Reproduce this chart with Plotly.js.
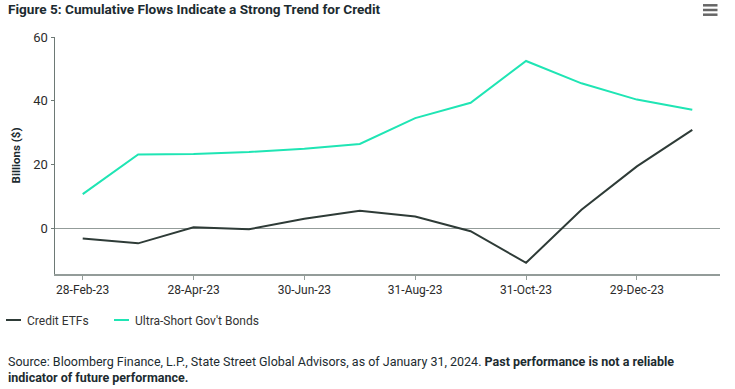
<!DOCTYPE html>
<html>
<head>
<meta charset="utf-8">
<script src="https://cdn.plot.ly/plotly-3.0.1.min.js"></script>
<style>html,body{margin:0;padding:0;background:#fff;}#chart{width:735px;height:389px;}</style>
</head>
<body>
<div id="chart"></div>
<script>
const dates = ["28-Feb-23","31-Mar-23","28-Apr-23","31-May-23","30-Jun-23","31-Jul-23","31-Aug-23","29-Sep-23","31-Oct-23","30-Nov-23","29-Dec-23","31-Jan-24"];
const creditETFs = [-3.1, -4.6, 0.4, -0.2, 3.1, 5.6, 3.8, -0.8, -10.7, 5.9, 19.5, 30.9];
const ultraShort = [10.8, 23.2, 23.4, 24.0, 25.0, 26.5, 34.6, 39.4, 52.5, 45.5, 40.4, 37.2];
const tickLabels = ["28-Feb-23","28-Apr-23","30-Jun-23","31-Aug-23","31-Oct-23","29-Dec-23"];
const yTicks = [0, 20, 40, 60];

const sans = "Roboto, 'Liberation Sans', sans-serif";

const traces = [
  {x: dates, y: creditETFs, name: "Credit ETFs", type: "scatter", mode: "lines",
   line: {color: "#2e3b37", width: 2}},
  {x: dates, y: ultraShort, name: "Ultra-Short Gov't Bonds", type: "scatter", mode: "lines",
   line: {color: "#1fe5b4", width: 2}}
];

const L = 55, R = 15, T = 37, B = 115, W = 735, H = 389;
const pw = W - L - R, ph = H - T - B;
const px = x => (x - L) / pw;          // page px -> paper x
const py = y => (H - B - y) / ph;      // page px -> paper y

const layout = {
  width: W, height: H,
  margin: {l: L, r: R, t: T, b: B},
  paper_bgcolor: "#fff", plot_bgcolor: "#fff",
  showlegend: true,
  title: {text: "<b>Figure 5: Cumulative Flows Indicate a Strong Trend for Credit</b>",
          x: 8 / W, xanchor: "left", y: 1 - 9.5 / H, yanchor: "middle",
          font: {family: sans, size: 13.6, color: "#1c2b30"}},
  xaxis: {type: "category", range: [-0.5, 11.5], tickmode: "array", tickvals: tickLabels, ticktext: tickLabels,
          automargin: false, showgrid: false, zeroline: false, showline: true, linecolor: "#939c99", linewidth: 2,
          ticks: "outside", ticklen: 4, tickcolor: "#939c99", tickwidth: 1,
          tickfont: {family: sans, size: 12, color: "#2b2b2b"}, fixedrange: true},
  yaxis: {range: [-14.2, 60], tickmode: "array", tickvals: yTicks, showgrid: false, automargin: false,
          zeroline: true, zerolinecolor: "#939c99", zerolinewidth: 1.5,
          showline: true, linecolor: "#6d7975", linewidth: 1.5,
          ticks: "outside", ticklen: 3, tickcolor: "#6d7975",
          tickfont: {family: sans, size: 13, color: "#2b2b2b"},
          title: {text: "<b>Billions ($)</b>", standoff: 10, font: {family: sans, size: 11.5, color: "#1c2b30"}},
          fixedrange: true},
  legend: {orientation: "h", xref: "container", yref: "container", x: 0, xanchor: "left",
           y: (H - 320) / H, yanchor: "middle",
           font: {family: sans, size: 12, color: "#333"}, itemwidth: 30, borderwidth: 0},
  annotations: [
    {xref: "paper", yref: "paper", x: px(6), y: py(369.5), xanchor: "left", yanchor: "middle", align: "left", showarrow: false,
     text: "Source: Bloomberg Finance, L.P., State Street Global Advisors, as of January 31, 2024. <b>Past performance is not a reliable</b><br><b>indicator of future performance.</b>",
     font: {family: sans, size: 12.5, color: "#1c2b30"}}
  ],
  shapes: [5.3, 10, 14.7].map(yy => ({type: "line", xref: "paper", yref: "paper",
     x0: px(703), x1: px(717.5), y0: py(yy), y1: py(yy),
     line: {color: "#666", width: 2.5}}))
};

Plotly.newPlot("chart", traces, layout, {displayModeBar: false, staticPlot: true}).then(gd => {
  // compact legend samples like the reference (short line, small gap)
  const items = gd.querySelectorAll('.legend .traces');
  const starts = [6, 114];   // page x where each legend line sample begins
  const legendG = gd.querySelector('.legend');
  items.forEach((g, i) => {
    g.querySelectorAll('path.js-line').forEach(p => p.setAttribute('d', 'M0,0h15'));
    const t = g.querySelector('text.legendtext');
    if (t) { t.setAttribute('x', 21); t.querySelectorAll('tspan').forEach(s => { if (s.hasAttribute('x')) s.setAttribute('x', 21); }); }
    const m = /translate\(([-\d.]+)[ ,]*([-\d.]+)?\)/.exec(g.getAttribute('transform') || '');
    const ty = m && m[2] ? parseFloat(m[2]) : 0;
    const parent = g.parentNode;
    const base = parent.getCTM ? parent.getCTM().e - gd.querySelector('.main-svg').getCTM().e : 0;
    g.setAttribute('transform', 'translate(' + (starts[i] - base) + ',' + ty + ')');
  });
});
</script>
</body>
</html>
